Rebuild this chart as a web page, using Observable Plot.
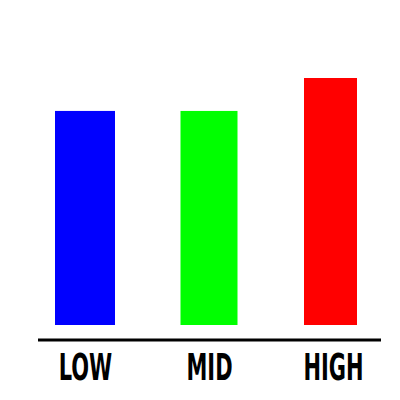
<!DOCTYPE html>
<html>
<head>
<meta charset="utf-8">
<script src="https://cdn.jsdelivr.net/npm/d3@7"></script>
<script src="https://cdn.jsdelivr.net/npm/@observablehq/plot@0.6"></script>
<style>
  html, body { margin: 0; padding: 0; background: #ffffff; }
  #chart { width: 400px; height: 400px; }
</style>
</head>
<body>
<div id="chart"></div>
<script>
const categories = ["LOW", "MID", "HIGH"];
const values = [65, 65, 75];

const data = categories.map((c, i) => ({category: c, value: values[i]}));

// per-bar insets (style only)
const insets = [[1, 1], [2.5, 2.5], [2, 7]];

const bars = categories.map((c, i) =>
  Plot.barY(data.filter(d => d.category === c), {
    x: "category",
    y: "value",
    fill: "category",
    insetLeft: insets[i][0],
    insetRight: insets[i][1]
  })
);

const chart = Plot.plot({
  width: 400,
  height: 400,
  marginTop: 78,
  marginBottom: 75,
  marginLeft: 23,
  marginRight: 5,
  style: {background: "#ffffff", color: "#000000"},
  x: {domain: categories, paddingInner: 0.5, paddingOuter: 0.25, label: null},
  y: {domain: [0, 75], axis: null},
  color: {domain: categories, range: ["#0000ff", "#00ff00", "#ff0000"]},
  marks: [
    ...bars,
    Plot.ruleY([0], {dy: 14.5, strokeWidth: 3, stroke: "#000000", insetLeft: 15, insetRight: 14}),
    Plot.axisX({
      label: null,
      tickSize: 0,
      tickPadding: 28.7,
      fontSize: 37,
      fontWeight: "bold",
      fontFamily: "'Liberation Sans Narrow', 'DejaVu Sans Condensed', 'Liberation Sans', sans-serif",
      fill: "#000000"
    })
  ]
});

document.getElementById("chart").appendChild(chart);

// condense the labels to mimic a narrow display face
chart.querySelectorAll("g[aria-label='x-axis tick label'] text").forEach(t => {
  const w = t.getComputedTextLength();
  t.setAttribute("textLength", w * 0.63);
  t.setAttribute("lengthAdjust", "spacingAndGlyphs");
});
</script>
</body>
</html>
